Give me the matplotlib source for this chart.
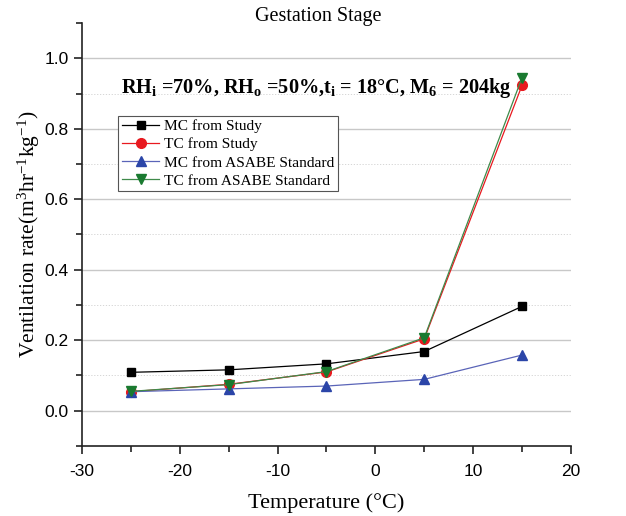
import numpy as np
import matplotlib.pyplot as plt
from matplotlib.ticker import MultipleLocator

plt.rcParams['mathtext.fontset'] = 'custom'
plt.rcParams['mathtext.rm'] = 'Liberation Serif'
plt.rcParams['mathtext.it'] = 'Liberation Serif:italic'
plt.rcParams['mathtext.bf'] = 'Liberation Serif:bold'
plt.rcParams['axes.unicode_minus'] = False

# temperature (°C)
temps = [-25, -15, -5, 5, 15]
# ventilation rate (m3 hr-1 kg-1)
mc_study = [0.109, 0.116, 0.133, 0.168, 0.296]
tc_study = [0.054, 0.075, 0.110, 0.204, 0.923]
mc_asabe = [0.054, 0.062, 0.070, 0.089, 0.158]
tc_asabe = [0.055, 0.074, 0.111, 0.207, 0.945]

series = [
    ("MC from Study", mc_study, 's', 6.3, 'black', 'black'),
    ("TC from Study", tc_study, 'o', 7, '#e8191f', '#e8191f'),
    ("MC from ASABE Standard", mc_asabe, '^', 7.5, '#2b45a8', '#5a64b8'),
    ("TC from ASABE Standard", tc_asabe, 'v', 7.5, '#1a7a30', '#3f8a4a'),
]

fig = plt.figure(figsize=(6.26, 5.16), dpi=100)
ax = fig.add_axes([0.131, 0.1357, 0.781, 0.8197])

for label, vals, marker, ms, mcolor, lcolor in series:
    ax.plot(temps, vals, color=lcolor, lw=0.9, marker=marker, ms=ms,
            markerfacecolor=mcolor, markeredgecolor=mcolor, label=label)

ax.set_xlim(-30, 20)
ax.set_ylim(-0.1, 1.1)
ax.xaxis.set_major_locator(MultipleLocator(10))
ax.xaxis.set_minor_locator(MultipleLocator(5))
ax.set_yticks(np.arange(0, 1.01, 0.2))
ax.yaxis.set_minor_locator(MultipleLocator(0.1))
ax.yaxis.set_major_formatter(plt.FormatStrFormatter('%.1f'))

ax.grid(axis='y', which='major', color='#c8c8c8', lw=1.0)
ax.grid(axis='y', which='minor', color='#d0d0d0', lw=0.6, ls=(0, (1.5, 2)))
ax.set_axisbelow(True)

for side in ['top', 'right']:
    ax.spines[side].set_visible(False)
for side in ['left', 'bottom']:
    ax.spines[side].set_linewidth(1.2)
    ax.spines[side].set_color('#222222')

ax.tick_params(which='major', direction='out', length=6, width=1.2, color='#222222',
               labelsize=12.5)
ax.tick_params(axis='x', which='major', pad=7)
ax.tick_params(which='minor', direction='out', length=4, width=1.2, color='#222222')
for lbl in ax.get_xticklabels() + ax.get_yticklabels():
    lbl.set_fontfamily('Liberation Sans')

fig.canvas.draw()
for t in ax.yaxis.get_minor_ticks():
    if t.get_loc() > 1.05:
        t.gridline.set_visible(False)

ax.set_xlabel("Temperature (°C)", fontsize=16, family='Liberation Serif', labelpad=10)
ax.set_ylabel(r"Ventilation rate(m$^{3}$hr$^{-1}$kg$^{-1}$)", fontsize=15.5,
              family='Liberation Serif', labelpad=2)
fig.text(0.508, 0.968, "Gestation Stage", ha='center', va='center', fontsize=14.5,
         family='Liberation Serif')

ax.text(0.48, 0.847,
        r"RH$_\mathbf{i}$ =70%, RH$_\mathbf{o}$ =50%,t$_\mathbf{i}$ = 18°C, M$_\mathbf{6}$ = 204kg",
        transform=ax.transAxes, ha='center', va='center', fontsize=14.6,
        fontweight='bold', family='Liberation Serif')

leg = ax.legend(loc='upper left', bbox_to_anchor=(0.074, 0.781), frameon=True,
                fancybox=False, edgecolor='#555555', framealpha=1,
                prop={'family': 'Liberation Serif', 'size': 11.1},
                borderpad=0.25, labelspacing=0.28, handlelength=2.4, handletextpad=0.3,
                borderaxespad=0)
leg.get_frame().set_linewidth(0.8)

fig.savefig('out.png', dpi=100)
